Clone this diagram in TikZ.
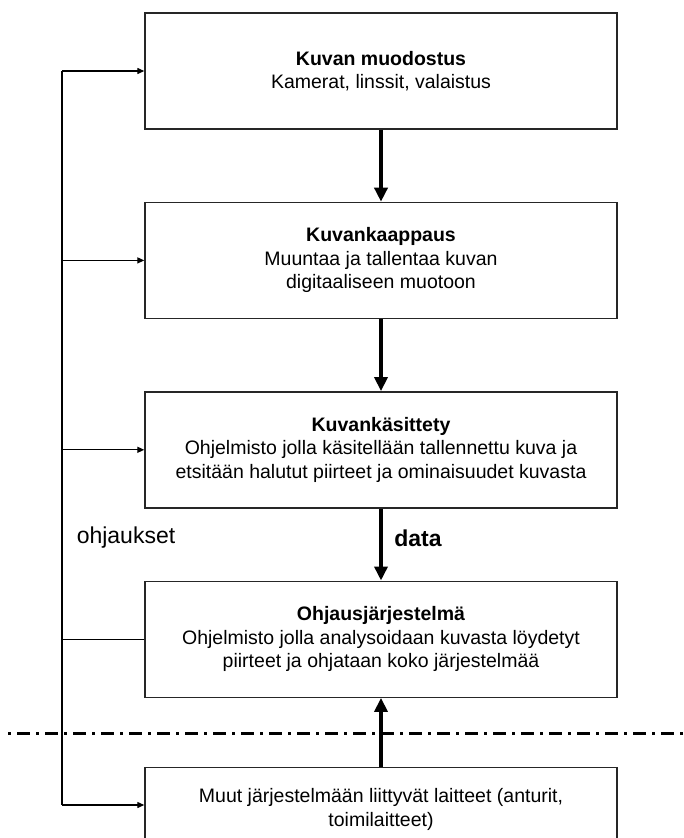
\documentclass[tikz,border=0pt]{standalone}
\usepackage{fontspec}
\setmainfont{Liberation Sans}
\usetikzlibrary{arrows.meta,positioning}

\tikzset{
  stage/.style={draw=black!85, line width=1.4pt, minimum width=472pt, minimum height=116pt,
    align=center, font=\fontsize{19.5}{23.5}\selectfont},
  flow/.style={line width=3.5pt, -{Triangle[width=13pt,length=14pt]}},
  ctrl/.style={line width=1.3pt},
  ctrlin/.style={ctrl, -{Triangle[width=6pt,length=7pt]}},
  lbl/.style={font=\fontsize{23}{25}\selectfont},
  sepline/.style={line width=3pt, dash pattern=on 3pt off 6pt on 13pt off 6pt}
}

\begin{document}
\begin{tikzpicture}[x=1pt, y=-1pt, node distance=72pt]
  \useasboundingbox (0,0) rectangle (684,838);
  \node[stage] (form) at (381,71) {\textbf{Kuvan muodostus}\\Kamerat, linssit, valaistus};
  \node[stage, below=of form] (capt) {\textbf{Kuvankaappaus}\\Muuntaa ja tallentaa kuvan\\digitaaliseen muotoon};
  \node[stage, below=of capt] (proc) {\textbf{Kuvankäsittety}\\Ohjelmisto jolla käsitellään tallennettu kuva ja\\etsitään halutut piirteet ja ominaisuudet kuvasta};
  \node[stage, below=of proc] (ctl) {\textbf{Ohjausjärjestelmä}\\Ohjelmisto jolla analysoidaan kuvasta löydetyt\\piirteet ja ohjataan koko järjestelmää};
  \node[stage, below=69pt of ctl, minimum height=0pt, inner ysep=21pt, text depth=30pt] (dev) {Muut järjestelmään liittyvät laitteet (anturit,\\toimilaitteet)};

  \node[lbl] (ohj) at (126,538) {ohjaukset};
  \node[lbl] (data) at (418,538) {\textbf{data}};

  % separator
  \coordinate (sepL) at (8,733);
  \coordinate (sepR) at (684,733);
  \draw[sepline] (sepL) -- (sepR);

  % data flow
  \path[flow]
  (form) edge (capt)
  (capt) edge (proc)
  (proc) edge (ctl)
  (dev.north) edge (ctl)
  ;

  % control bus
  \coordinate (bus) at (62,0);
  \coordinate (devin) at (62,805);
  \draw[ctrl] (ctl.west) -- (ctl.west -| bus);
  \draw[ctrl] (bus |- form.west) -- (devin);
  \path[ctrlin]
  (bus |- form.west) edge (form.west)
  (bus |- capt.west) edge (capt.west)
  (bus |- proc.west) edge (proc.west)
  (devin) edge (devin -| dev.west)
  ;
\end{tikzpicture}
\end{document}
